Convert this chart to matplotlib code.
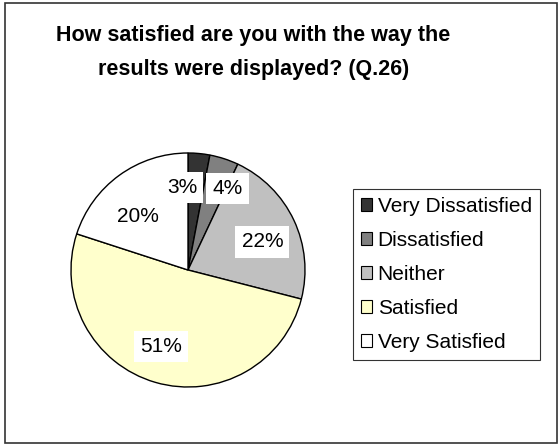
import matplotlib.pyplot as plt
from matplotlib.patches import Rectangle

plt.rcParams['font.family'] = ['Liberation Sans', 'DejaVu Sans']

categories = ['Very Dissatisfied', 'Dissatisfied', 'Neither', 'Satisfied', 'Very Satisfied']
percents = [3, 4, 22, 51, 20]
colors = ['#333333', '#808080', '#C0C0C0', '#FFFFCC', '#FFFFFF']

fig = plt.figure(figsize=(5.59, 4.44), dpi=100)

# outer chart frame
fig.patches.append(Rectangle((0.009, 0.002), 0.987, 0.992, transform=fig.transFigure,
                             fill=False, edgecolor='#333333', linewidth=1.2))

fig.text(0.453, 0.881, 'How satisfied are you with the way the\nresults were displayed? (Q.26)',
         ha='center', va='center', fontsize=15.5, fontweight='bold', linespacing=1.8)

ax = fig.add_axes([(188 - 117) / 559, 1 - (270 + 117) / 444, 234 / 559, 234 / 444])
wedges, texts, autotexts = ax.pie(
    percents, colors=colors, startangle=90, counterclock=False,
    autopct='%d%%', pctdistance=0.68,
    wedgeprops=dict(edgecolor='black', linewidth=1.0),
    textprops=dict(fontsize=15),
)
for t in autotexts:
    t.set_bbox(dict(facecolor='white', edgecolor='none', pad=4.5))

# nudge labels so the small slices don't collide
offsets = [(-0.115, 0.03), (0.13, 0.05), (0.02, -0.05), (-0.04, 0.0), (-0.03, -0.09)]
for t, (dx, dy) in zip(autotexts, offsets):
    x, y = t.get_position()
    t.set_position((x + dx, y + dy))

ax.set_xlim(-1.0, 1.0)
ax.set_ylim(-1.0, 1.0)
ax.set_aspect('equal')

leg = fig.legend(wedges, categories, loc='upper left',
                 bbox_to_anchor=(353 / 559, 1 - 189 / 444),
                 fontsize=15, frameon=True, fancybox=False,
                 handlelength=0.55, handleheight=0.55, handletextpad=0.25,
                 labelspacing=0.72, borderpad=0.38, borderaxespad=0)
leg.get_frame().set_edgecolor('black')
leg.get_frame().set_linewidth(0.8)
for h in leg.legend_handles:
    h.set_linewidth(0.8)

fig.savefig('out.png', dpi=100)
